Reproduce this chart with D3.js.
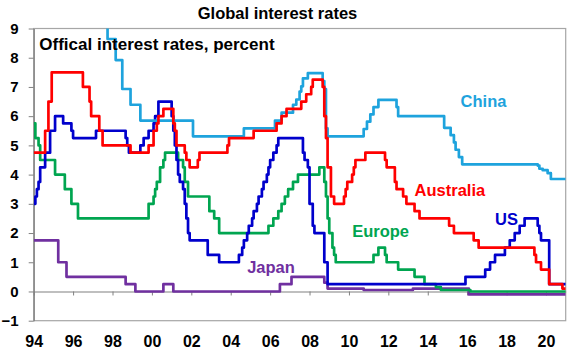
<!DOCTYPE html>
<html>
<head>
<meta charset="utf-8">
<script src="https://cdn.jsdelivr.net/npm/d3@7"></script>
<style>
  body { margin: 0; background: #fff; }
  svg { display: block; font-family: Arial, "Liberation Sans", sans-serif; }
</style>
</head>
<body>
<div id="chart"></div>
<script>
// policy rates, [month of change, rate in percent]
const china = [
  ['1994-01', 10.98], ['1995-07', 12.06], ['1996-05', 10.98], ['1996-08', 10.08],
  ['1997-10', 8.64], ['1998-03', 7.92], ['1998-07', 6.93], ['1998-12', 6.39],
  ['1999-06', 5.85], ['2002-02', 5.31], ['2004-09', 5.58], ['2006-04', 5.85],
  ['2006-08', 6.12], ['2007-03', 6.39], ['2007-05', 6.57], ['2007-07', 6.84],
  ['2007-08', 7.02], ['2007-09', 7.29], ['2007-12', 7.47], ['2008-09', 7.2],
  ['2008-10', 6.93], ['2008-11', 5.58], ['2008-12', 5.31], ['2010-10', 5.56],
  ['2010-12', 5.81], ['2011-02', 6.06], ['2011-04', 6.31], ['2011-07', 6.56],
  ['2012-06', 6.31], ['2012-07', 6.0], ['2014-11', 5.6], ['2015-03', 5.35],
  ['2015-05', 5.1], ['2015-06', 4.85], ['2015-08', 4.6], ['2015-10', 4.35],
  ['2019-08', 4.31], ['2019-09', 4.2], ['2019-11', 4.15], ['2020-02', 4.05],
  ['2020-04', 3.85],
];

const australia = [
  ['1994-01', 4.75], ['1994-08', 5.5], ['1994-10', 6.5], ['1994-12', 7.5],
  ['1996-07', 7.0], ['1996-11', 6.5], ['1996-12', 6.0], ['1997-05', 5.5],
  ['1997-07', 5.0], ['1998-12', 4.75], ['1999-11', 5.0], ['2000-02', 5.5],
  ['2000-04', 5.75], ['2000-05', 6.0], ['2000-08', 6.25], ['2001-02', 5.75],
  ['2001-03', 5.5], ['2001-04', 5.0], ['2001-09', 4.75], ['2001-10', 4.5],
  ['2001-12', 4.25], ['2002-05', 4.5], ['2002-06', 4.75], ['2003-11', 5.0],
  ['2003-12', 5.25], ['2005-03', 5.5], ['2006-05', 5.75], ['2006-08', 6.0],
  ['2006-11', 6.25], ['2007-08', 6.5], ['2007-11', 6.75], ['2008-02', 7.0],
  ['2008-03', 7.25], ['2008-09', 7.0], ['2008-10', 6.0], ['2008-11', 5.25],
  ['2008-12', 4.25], ['2009-02', 3.25], ['2009-04', 3.0], ['2009-10', 3.25],
  ['2009-11', 3.5], ['2009-12', 3.75], ['2010-03', 4.0], ['2010-04', 4.25],
  ['2010-05', 4.5], ['2010-11', 4.75], ['2011-11', 4.5], ['2011-12', 4.25],
  ['2012-05', 3.75], ['2012-06', 3.5], ['2012-10', 3.25], ['2012-12', 3.0],
  ['2013-05', 2.75], ['2013-08', 2.5], ['2015-02', 2.25], ['2015-05', 2.0],
  ['2016-05', 1.75], ['2016-08', 1.5], ['2019-06', 1.25], ['2019-07', 1.0],
  ['2019-10', 0.75], ['2020-03', 0.25], ['2020-11', 0.1],
];

const us = [
  ['1994-01', 3.0], ['1994-02', 3.25], ['1994-03', 3.5], ['1994-04', 3.75],
  ['1994-05', 4.25], ['1994-08', 4.75], ['1994-11', 5.5], ['1995-02', 6.0],
  ['1995-07', 5.75], ['1995-12', 5.5], ['1996-01', 5.25], ['1997-03', 5.5],
  ['1998-09', 5.25], ['1998-10', 5.0], ['1998-11', 4.75], ['1999-06', 5.0],
  ['1999-08', 5.25], ['1999-11', 5.5], ['2000-02', 5.75], ['2000-03', 6.0],
  ['2000-05', 6.5], ['2001-01', 6.0], ['2001-02', 5.5], ['2001-03', 5.0],
  ['2001-04', 4.5], ['2001-05', 4.0], ['2001-06', 3.75], ['2001-08', 3.5],
  ['2001-09', 3.0], ['2001-10', 2.5], ['2001-11', 2.0], ['2001-12', 1.75],
  ['2002-11', 1.25], ['2003-06', 1.0], ['2004-06', 1.25], ['2004-08', 1.5],
  ['2004-09', 1.75], ['2004-11', 2.0], ['2004-12', 2.25], ['2005-02', 2.5],
  ['2005-03', 2.75], ['2005-05', 3.0], ['2005-06', 3.25], ['2005-08', 3.5],
  ['2005-09', 3.75], ['2005-11', 4.0], ['2005-12', 4.25], ['2006-01', 4.5],
  ['2006-03', 4.75], ['2006-05', 5.0], ['2006-06', 5.25], ['2007-09', 4.75],
  ['2007-10', 4.5], ['2007-12', 4.25], ['2008-01', 3.0], ['2008-03', 2.25],
  ['2008-04', 2.0], ['2008-10', 1.0], ['2008-12', 0.25], ['2015-12', 0.5],
  ['2016-12', 0.75], ['2017-03', 1.0], ['2017-06', 1.25], ['2017-12', 1.5],
  ['2018-03', 1.75], ['2018-06', 2.0], ['2018-09', 2.25], ['2018-12', 2.5],
  ['2019-08', 2.25], ['2019-09', 2.0], ['2019-10', 1.75], ['2020-03', 0.25],
];

const europe = [
  ['1994-01', 5.75], ['1994-02', 5.25], ['1994-04', 5.0], ['1994-05', 4.5],
  ['1995-02', 4.0], ['1995-08', 3.5], ['1995-12', 3.0], ['1996-04', 2.5],
  ['1999-11', 3.0], ['2000-02', 3.25], ['2000-03', 3.5], ['2000-04', 3.75],
  ['2000-06', 4.25], ['2000-08', 4.5], ['2000-09', 4.75], ['2001-05', 4.5],
  ['2001-08', 4.25], ['2001-09', 3.75], ['2001-11', 3.25], ['2002-12', 2.75],
  ['2003-03', 2.5], ['2003-06', 2.0], ['2005-12', 2.25], ['2006-03', 2.5],
  ['2006-06', 2.75], ['2006-08', 3.0], ['2006-10', 3.25], ['2006-12', 3.5],
  ['2007-03', 3.75], ['2007-06', 4.0], ['2008-07', 4.25], ['2008-10', 3.75],
  ['2008-11', 3.25], ['2008-12', 2.5], ['2009-01', 2.0], ['2009-03', 1.5],
  ['2009-04', 1.25], ['2009-05', 1.0], ['2011-04', 1.25], ['2011-07', 1.5],
  ['2011-11', 1.25], ['2011-12', 1.0], ['2012-07', 0.75], ['2013-05', 0.5],
  ['2013-11', 0.25], ['2014-06', 0.15], ['2014-09', 0.05], ['2016-03', 0.0],
];

const japan = [
  ['1994-01', 1.75], ['1995-04', 1.0], ['1995-09', 0.5], ['1998-09', 0.25],
  ['1999-03', 0.0], ['2000-08', 0.25], ['2001-02', 0.0], ['2006-07', 0.25],
  ['2007-02', 0.5], ['2008-10', 0.3], ['2008-12', 0.1], ['2010-10', 0.05],
  ['2013-04', 0.1], ['2016-02', -0.1],
];

const yTicks = [-1, 0, 1, 2, 3, 4, 5, 6, 7, 8, 9];

// drawn in this order; label anchors in data units: [date, rate]
const series = [
  { name: 'Japan', data: japan, color: '#7030a0', label: ['2004-11', 0.63] },
  { name: 'Europe', data: europe, color: '#00a550', label: ['2010-03', 1.87] },
  { name: 'US', data: us, color: '#0000cc', label: ['2017-06', 2.29] },
  { name: 'China', data: china, color: '#1ea3dd', label: ['2015-09', 6.3] },
  { name: 'Australia', data: australia, color: '#ff0000', label: ['2013-05', 3.27] },
];

const width = 570;
const height = 359;
const margin = { top: 28.5, right: 4.3, bottom: 38.3, left: 33.7 };
const parseMonth = d3.timeParse('%Y-%m');
const startDate = new Date(1994, 0, 1);
const endDate = new Date(2021, 0, 1);

const svg = d3.select('#chart').append('svg')
  .attr('width', width)
  .attr('height', height);

const x = d3.scaleTime()
  .domain([startDate, endDate])
  .range([margin.left, width - margin.right]);

const y = d3.scaleLinear()
  .domain([-1, 9])
  .range([height - margin.bottom, margin.top]);

svg.append('text')
  .attr('x', 277.5)
  .attr('y', 18.5)
  .attr('text-anchor', 'middle')
  .style('font-size', '16.5px')
  .style('font-weight', 'bold')
  .text('Global interest rates');

// plot frame
svg.append('rect')
  .attr('x', margin.left)
  .attr('y', margin.top)
  .attr('width', width - margin.right - margin.left)
  .attr('height', height - margin.bottom - margin.top)
  .attr('fill', 'none')
  .attr('stroke', '#a6a6a6')
  .attr('stroke-width', 1.2);

svg.append('clipPath')
  .attr('id', 'plotClip')
  .append('rect')
  .attr('x', margin.left)
  .attr('y', margin.top)
  .attr('width', width - margin.right - margin.left)
  .attr('height', height - margin.bottom - margin.top);

// y axis
const yAxis = svg.append('g')
  .attr('transform', `translate(${margin.left},0)`)
  .call(d3.axisLeft(y).tickValues(yTicks).tickSizeInner(5).tickSizeOuter(0).tickPadding(10));
yAxis.select('.domain').attr('stroke', '#808080').attr('stroke-width', 1.3);
yAxis.selectAll('.tick line').attr('stroke', '#808080');
yAxis.selectAll('.tick text')
  .style('font-size', '15px')
  .style('font-weight', 'bold')
  .attr('fill', '#000');

// zero line with year ticks
const zeroAxis = svg.append('g')
  .attr('transform', `translate(0,${y(0)})`)
  .call(d3.axisBottom(x).ticks(d3.timeYear.every(2)).tickSizeInner(4).tickSizeOuter(0).tickFormat(''));
zeroAxis.select('.domain').attr('stroke', '#808080').attr('stroke-width', 1.2);
zeroAxis.selectAll('.tick line').attr('stroke', '#808080');

// year labels under the frame
const xLabels = svg.append('g')
  .attr('transform', `translate(0,${y(-1)})`)
  .call(d3.axisBottom(x).ticks(d3.timeYear.every(2)).tickSize(0).tickPadding(14.5)
    .tickFormat(d3.timeFormat('%y')));
xLabels.select('.domain').remove();
xLabels.selectAll('.tick text')
  .style('font-size', '16px')
  .style('font-weight', 'bold')
  .attr('fill', '#000');

const line = d3.line()
  .x(d => x(d.date))
  .y(d => y(d.rate))
  .curve(d3.curveStepAfter);

const lines = svg.append('g').attr('clip-path', 'url(#plotClip)');

series.forEach((s) => {
  const points = s.data.map(([m, rate]) => ({ date: parseMonth(m), rate }));
  // carry the last rate to the edge of the chart
  points.push({ date: endDate, rate: points[points.length - 1].rate });

  lines.append('path')
    .datum(points)
    .attr('d', line)
    .attr('fill', 'none')
    .attr('stroke', s.color)
    .attr('stroke-width', 2.7)
    .attr('stroke-linejoin', 'round');

  svg.append('text')
    .attr('x', x(parseMonth(s.label[0])))
    .attr('y', y(s.label[1]))
    .attr('fill', s.color)
    .style('font-size', '16.5px')
    .style('font-weight', 'bold')
    .text(s.name);
});

svg.append('text')
  .attr('x', 39.3)
  .attr('y', 49.5)
  .style('font-size', '17px')
  .style('font-weight', 'bold')
  .text('Offical interest rates, percent');
</script>
</body>
</html>
